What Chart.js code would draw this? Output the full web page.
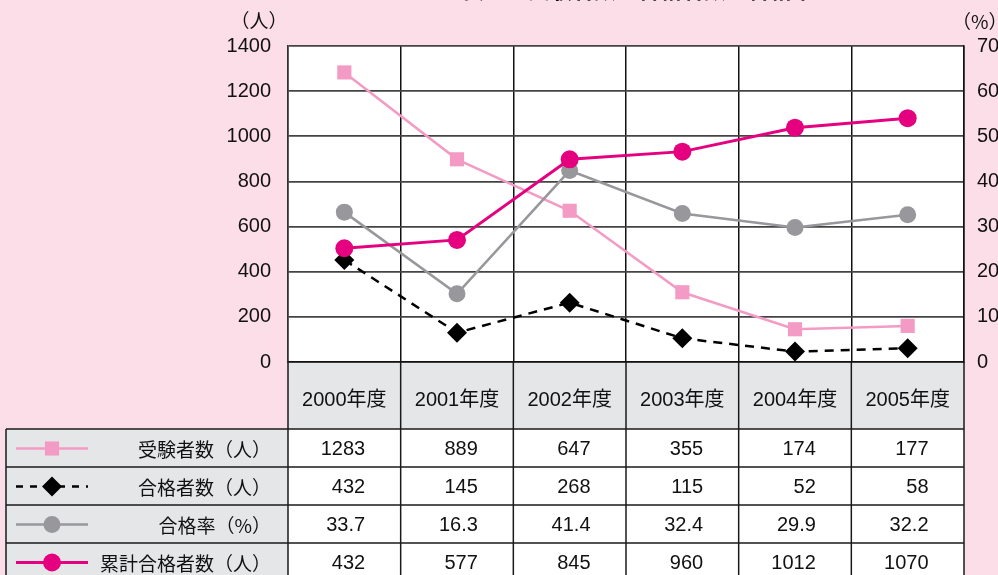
<!DOCTYPE html>
<html><head><meta charset="utf-8">
<script src="https://cdn.jsdelivr.net/npm/chart.js@4/dist/chart.umd.min.js"></script>
<style>
html,body{margin:0;padding:0;background:#fcdee9;}
#wrap{position:relative;width:998px;height:575px;overflow:hidden;}
canvas{display:block;}
</style></head><body><div id="wrap"><canvas id="c" width="998" height="575"></canvas></div>
<script>
// ---- data ----
const categories = ['2000年度', '2001年度', '2002年度', '2003年度', '2004年度', '2005年度'];
const seriesNames = ['受験者数（人）', '合格者数（人）', '合格率（%）', '累計合格者数（人）'];
// values as plotted in the picture
const examinees = [1283, 898, 670, 309, 145, 160];
const passers = [452, 130, 263, 105, 46, 61];
const passRate = [33.2, 15.1, 42.4, 32.9, 29.8, 32.6];
const cumulative = [504, 541, 898, 932, 1038, 1080];
// values printed in the data table
const tableExaminees = ['1283', '889', '647', '355', '174', '177'];
const tablePassers = ['432', '145', '268', '115', '52', '58'];
const tablePassRate = ['33.7', '16.3', '41.4', '32.4', '29.9', '32.2'];
const tableCumulative = ['432', '577', '845', '960', '1012', '1070'];
const leftUnit = '（人）';
const rightUnit = '（%）';
const titleText = '表１　受験者数・合格者数・合格率';

// ---- styles ----
const PINK_BG = '#fcdee9';
const HEAD_GRAY = '#e5e6e8';
const LINE_DARK = '#1a1a1a';
const styles = [
  {color: '#f39bc5', pointStyle: 'rect', radius: 10, width: 2.5, dash: []},
  {color: '#000000', pointStyle: 'rectRot', radius: 10, width: 2.5, dash: [9, 7]},
  {color: '#98989c', pointStyle: 'circle', radius: 8.5, width: 2.5, dash: []},
  {color: '#e4007f', pointStyle: 'circle', radius: 9, width: 3, dash: []}
];
const tableRows = [tableExaminees, tablePassers, tablePassRate, tableCumulative];
const NUM_FONT = "'Liberation Sans', 'Noto Sans CJK JP', sans-serif";
const JP_FONT = "'Noto Sans CJK JP', sans-serif";

Chart.defaults.font.family = NUM_FONT;
Chart.defaults.color = '#111';

const ROW_H = 38;
const TABLE_LEFT = 6;

const tablePlugin = {
  id: 'tablePlugin',
  beforeDraw(chart) {
    const ctx = chart.ctx, ca = chart.chartArea, xs = chart.scales.x;
    ctx.save();
    ctx.fillStyle = PINK_BG;
    ctx.fillRect(0, 0, chart.width, chart.height);
    ctx.fillStyle = '#ffffff';
    ctx.fillRect(ca.left, ca.top, ca.right - ca.left, ca.bottom - ca.top);
    ctx.fillStyle = HEAD_GRAY;
    ctx.fillRect(ca.left, ca.bottom, ca.right - ca.left, xs.bottom - ca.bottom);
    ctx.fillRect(TABLE_LEFT, xs.bottom, ca.left - TABLE_LEFT, chart.height - xs.bottom);
    ctx.fillStyle = '#ffffff';
    ctx.fillRect(ca.left, xs.bottom, ca.right - ca.left, chart.height - xs.bottom);
    ctx.restore();
  },
  afterDraw(chart) {
    const ctx = chart.ctx, ca = chart.chartArea, xs = chart.scales.x;
    const top = xs.bottom;
    const n = categories.length;
    const bounds = [ca.left];
    for (let i = 1; i < n; i++) bounds.push((xs.getPixelForValue(i - 1) + xs.getPixelForValue(i)) / 2);
    bounds.push(ca.right);
    ctx.save();
    ctx.strokeStyle = LINE_DARK;
    ctx.lineWidth = 1.5;
    // vertical lines below plot
    bounds.forEach(b => {
      ctx.beginPath(); ctx.moveTo(b, ca.bottom); ctx.lineTo(b, chart.height); ctx.stroke();
    });
    ctx.beginPath(); ctx.moveTo(TABLE_LEFT, top); ctx.lineTo(TABLE_LEFT, chart.height); ctx.stroke();
    // horizontal lines
    for (let r = 0; r < tableRows.length; r++) {
      const y = top + r * ROW_H;
      ctx.beginPath(); ctx.moveTo(TABLE_LEFT, y); ctx.lineTo(ca.right, y); ctx.stroke();
    }
    // table texts
    ctx.fillStyle = '#111';
    ctx.textBaseline = 'middle';
    tableRows.forEach((row, r) => {
      const yc = top + r * ROW_H + ROW_H / 2 + 1.5;
      ctx.font = '20px ' + NUM_FONT;
      ctx.textAlign = 'right';
      row.forEach((v, i) => ctx.fillText(v, bounds[i + 1] - 35.5, yc));
      ctx.font = '19px ' + JP_FONT;
      ctx.fillText(seriesNames[r], 271, yc);
      // legend swatch
      const st = styles[r];
      ctx.save();
      ctx.strokeStyle = st.color;
      ctx.lineWidth = st.width;
      ctx.setLineDash(st.dash.length ? [7, 7] : []);
      ctx.beginPath(); ctx.moveTo(16, yc - 1); ctx.lineTo(88, yc - 1); ctx.stroke();
      ctx.setLineDash([]);
      ctx.fillStyle = st.color;
      Chart.helpers.drawPoint(ctx, {pointStyle: st.pointStyle, radius: st.radius, borderWidth: 0, rotation: 0}, 52, yc - 1);
      ctx.restore();
    });
    // units
    ctx.font = '19px ' + JP_FONT;
    ctx.textAlign = 'center';
    ctx.fillText(leftUnit, 259, 21);
    ctx.textAlign = 'left';
    ctx.fillText(rightUnit, 952, 22);
    // title (cut off at the top edge)
    ctx.font = 'bold 22px ' + JP_FONT;
    ctx.textBaseline = 'alphabetic';
    ctx.fillText(titleText, 462, -2);
    ctx.restore();
  }
};

const seriesData = [examinees, passers, passRate, cumulative];
const axisIds = ['y', 'y', 'y1', 'y'];
const orders = [4, 3, 2, 1];

new Chart(document.getElementById('c'), {
  type: 'line',
  data: {
    labels: categories,
    datasets: seriesData.map((d, i) => ({
      label: seriesNames[i],
      data: d,
      yAxisID: axisIds[i],
      order: orders[i],
      borderColor: styles[i].color,
      backgroundColor: styles[i].color,
      pointBackgroundColor: styles[i].color,
      borderWidth: styles[i].width,
      borderDash: styles[i].dash,
      pointStyle: styles[i].pointStyle,
      pointRadius: styles[i].radius,
      pointBorderWidth: 0,
      tension: 0,
      fill: false
    }))
  },
  options: {
    responsive: false,
    devicePixelRatio: 1,
    animation: false,
    events: [],
    layout: {padding: {top: 46, left: 0, right: 0, bottom: 146}},
    plugins: {legend: {display: false}, tooltip: {enabled: false}, title: {display: false}},
    scales: {
      x: {
        type: 'category',
        offset: true,
        grid: {offset: true, color: '#111', lineWidth: 1.5, drawTicks: false},
        border: {display: true, color: '#111', width: 1.5},
        ticks: {color: '#111', font: {size: 20}, padding: 26, maxRotation: 0, autoSkip: false},
        afterFit(s) { s.height = 67; }
      },
      y: {
        position: 'left',
        min: 0, max: 1400,
        ticks: {stepSize: 200, color: '#111', font: {size: 20}, padding: 17, callback: v => String(v)},
        grid: {color: '#444', lineWidth: 1.8, drawTicks: false},
        border: {display: true, color: '#333', width: 1.5},
        afterFit(s) { s.width = 288; }
      },
      y1: {
        position: 'right',
        min: 0, max: 70,
        ticks: {stepSize: 10, color: '#111', font: {size: 20}, padding: 13, callback: v => String(v)},
        grid: {drawOnChartArea: false, drawTicks: false},
        border: {display: true, color: '#111', width: 1.5},
        afterFit(s) { s.width = 34; }
      }
    }
  },
  plugins: [tablePlugin]
});
</script>
</body></html>
